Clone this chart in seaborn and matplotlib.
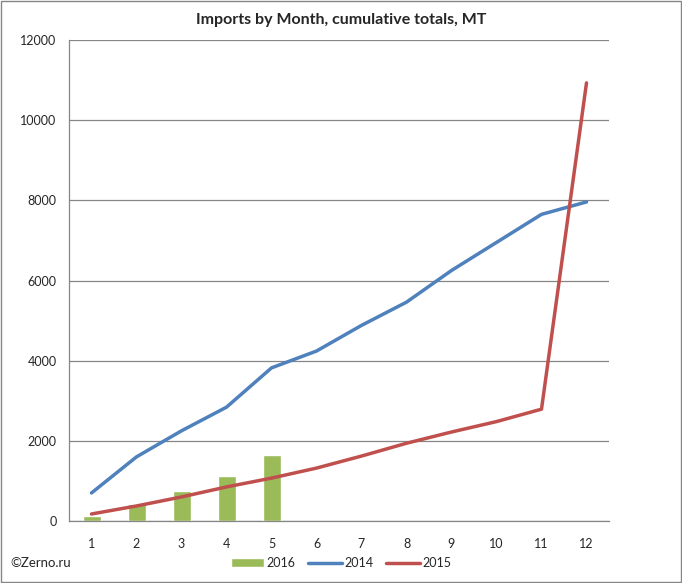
import matplotlib
matplotlib.use("Agg")
import matplotlib.pyplot as plt
import seaborn as sns
import numpy as np
import pandas as pd
from matplotlib.patches import Rectangle

months = [1, 2, 3, 4, 5, 6, 7, 8, 9, 10, 11, 12]
imports_2016 = [125, 425, 750, 1125, 1650]
imports_2014 = [700, 1600, 2250, 2840, 3820, 4240, 4880, 5460, 6250, 6950, 7650, 7960]
imports_2015 = [175, 375, 600, 850, 1070, 1320, 1620, 1940, 2220, 2480, 2790, 10930]

green = "#9BBB59"
blue = "#4F81BD"
red = "#C0504D"

sns.set_style("white")
plt.rcParams["font.family"] = ["Lato", "DejaVu Sans"]

fig = plt.figure(figsize=(6.82, 5.83), dpi=100)
ax = fig.add_axes([69 / 682, 1 - 521 / 583, 540 / 682, 481 / 583])

bars = pd.DataFrame({
    "month": [str(m) for m in months],
    "value": imports_2016 + [np.nan] * (len(months) - len(imports_2016)),
})
sns.barplot(data=bars, x="month", y="value", order=[str(m) for m in months],
            color=green, width=0.4, saturation=1, ax=ax, label="2016")

pos = np.arange(len(months))
sns.lineplot(x=pos, y=imports_2014, color=blue, linewidth=2.5, ax=ax, label="2014")
sns.lineplot(x=pos, y=imports_2015, color=red, linewidth=2.5, ax=ax, label="2015")

ax.set_xlim(-0.5, 11.5)
ax.set_ylim(0, 12000)
ax.set_yticks(np.arange(0, 12001, 2000))
ax.set_xticks(pos)
ax.set_xticklabels([str(m) for m in months])
ax.set_xticks(np.arange(-0.5, 12, 1), minor=True)
ax.tick_params(axis="x", which="major", length=0, pad=12, labelsize=9)
ax.tick_params(axis="x", which="minor", length=5, color="#868686", direction="out")
ax.tick_params(axis="y", length=5, color="#868686", direction="out", labelsize=9, pad=4)
ax.yaxis.grid(True, color="#868686", linewidth=0.9)
ax.set_axisbelow(True)
for s in ["top", "right"]:
    ax.spines[s].set_visible(False)
for s in ["left", "bottom"]:
    ax.spines[s].set_color("#868686")
    ax.spines[s].set_linewidth(0.9)
ax.set_xlabel("")
ax.set_ylabel("")

fig.text(0.5, 1 - 20 / 583, "Imports by Month, cumulative totals, MT",
         ha="center", va="center", fontsize=11.5, fontweight="bold")
fig.text(10 / 682, 1 - 563 / 583, "©Zerno.ru", ha="left", va="center", fontsize=9.5)

handles, labels = ax.get_legend_handles_labels()
order = [labels.index(l) for l in ["2016", "2014", "2015"]]
ax.legend([handles[i] for i in order], ["2016", "2014", "2015"],
          loc="center", bbox_to_anchor=(0.5, 1 - 563 / 583), bbox_transform=fig.transFigure,
          ncol=3, frameon=False, fontsize=9, handlelength=2.7, columnspacing=1.0,
          handletextpad=0.2)

fig.patches.append(Rectangle((0.001, 0.001), 0.997, 0.997, transform=fig.transFigure,
                             fill=False, edgecolor="#868686", linewidth=1))

fig.savefig("out.png", dpi=100)
